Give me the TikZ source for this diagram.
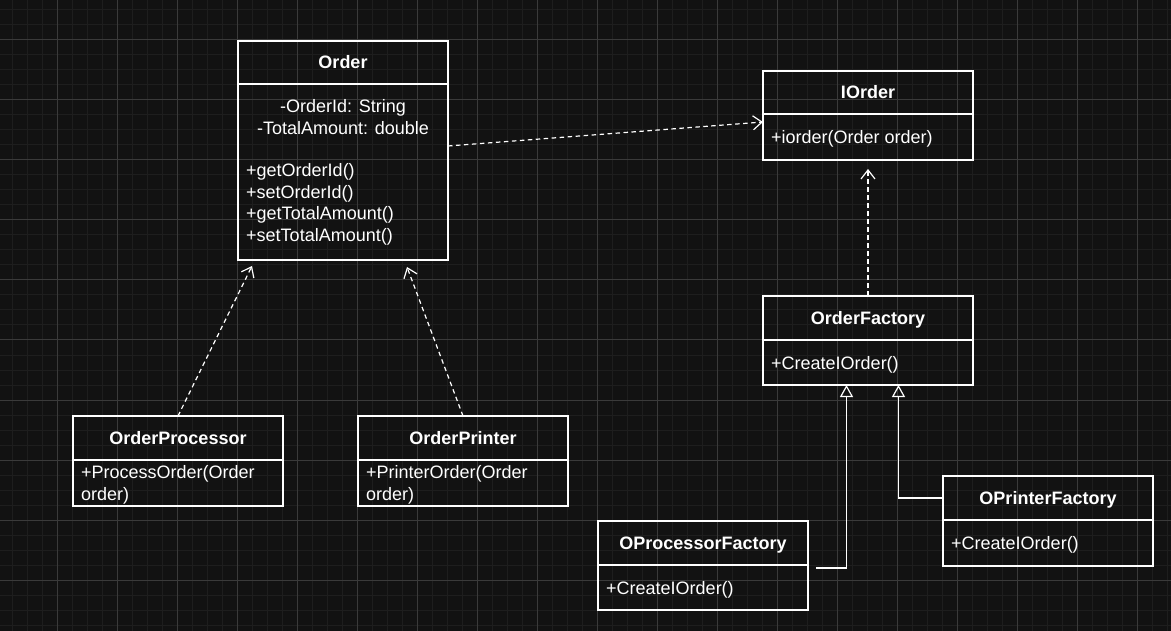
\documentclass[tikz,border=0pt]{standalone}
\usepackage{fontspec}
\setmainfont{Liberation Sans}
\usetikzlibrary{arrows.meta,positioning}
\definecolor{canvas}{HTML}{121212}
\definecolor{gridminor}{HTML}{1E1E1E}
\definecolor{gridmajor}{HTML}{3A3A3A}
\tikzset{
	classhead/.style={draw=white, line width=1.2pt, minimum width=210pt, minimum height=44pt, inner sep=0pt, outer sep=0pt, text height=15pt, text depth=3pt, text=white, font=\fontsize{18}{21.6}\selectfont\bfseries},
	classbody/.style={draw=white, line width=1.2pt, minimum width=210pt, minimum height=45pt, inner sep=0pt, outer sep=0pt},
	members/.style={text=white, font=\fontsize{18}{21.6}\selectfont, align=left, inner xsep=8pt, inner ysep=0pt, anchor=west, yshift=-2pt},
	dep/.style={draw=white, line width=1.2pt, dash pattern=on 4.5pt off 3.5pt, -{Straight Barb[length=9pt,width=14pt]}},
	inherit/.style={draw=white, line width=1.2pt, -{Triangle[open,length=12pt,width=13pt]}}
}
\begin{document}
\begin{tikzpicture}[x=1pt, y=-1pt]
			%%%%% CANVAS %%%%%
			
			\useasboundingbox (0,0) rectangle (1171,631);
			\fill[canvas] (0,0) rectangle (1171,631);
			\foreach \x in {12,27,...,1167} \draw[gridminor, line width=1pt] (\x,0) -- (\x,631);
			\foreach \y in {10,25,...,625} \draw[gridminor, line width=1pt] (0,\y) -- (1171,\y);
			\foreach \x in {57,117,...,1137} \draw[gridmajor, line width=1pt] (\x,0) -- (\x,631);
			\foreach \y in {40,100,...,580} \draw[gridmajor, line width=1pt] (0,\y) -- (1171,\y);
			
			%%%%% CLASSES %%%%%
			
			\node[classhead, anchor=north west, minimum height=43pt] (orderhead) at (238,41) {Order};
			\node[classbody, below=0pt of orderhead, minimum height=176pt] (orderbody) {};
			\node[text=white, font=\fontsize{18}{21.6}\selectfont, align=center] (orderattr) at (343,117) {-OrderId: String\\-TotalAmount: double};
			\node[members] (ordermeth) at (238,202.5) {+getOrderId()\\+setOrderId()\\+getTotalAmount()\\+setTotalAmount()};
			
			\node[classhead, anchor=north west, minimum height=43pt] (iorderhead) at (763,71) {IOrder};
			\node[classbody, below=0pt of iorderhead, minimum height=46pt] (iorderbody) {};
			\node[members] (iordermeth) at (iorderbody.west) {+iorder(Order order)};
			
			\node[classhead, anchor=north west] (factoryhead) at (763,296) {OrderFactory};
			\node[classbody, below=0pt of factoryhead] (factorybody) {};
			\node[members] (factorymeth) at (factorybody.west) {+CreateIOrder()};
			
			\node[classhead, anchor=north west] (prochead) at (73,416) {OrderProcessor};
			\node[classbody, below=0pt of prochead, minimum height=46pt] (procbody) {};
			\node[members] (procmeth) at (procbody.west) {+ProcessOrder(Order\\order)};
			
			\node[classhead, anchor=north west] (printerhead) at (358,416) {OrderPrinter};
			\node[classbody, below=0pt of printerhead, minimum height=46pt] (printerbody) {};
			\node[members] (printermeth) at (printerbody.west) {+PrinterOrder(Order\\order)};
			
			\node[classhead, anchor=north west] (opfhead) at (598,521) {OProcessorFactory};
			\node[classbody, below=0pt of opfhead] (opfbody) {};
			\node[members] (opfmeth) at (opfbody.west) {+CreateIOrder()};
			
			\node[classhead, anchor=north west] (oprfhead) at (943,476) {OPrinterFactory};
			\node[classbody, below=0pt of oprfhead, minimum height=46pt] (oprfbody) {};
			\node[members] (oprfmeth) at (oprfbody.west) {+CreateIOrder()};
			
			%%%%% RELATIONS %%%%%
			
			\draw[dep] ([yshift=26pt]orderbody.east) -- ([yshift=15pt]iorderbody.west);
			\draw[dep] (prochead.north) -- ([xshift=-91pt,yshift=-6pt]orderbody.south);
			\draw[dep] (printerhead.north) -- ([xshift=64pt,yshift=-7pt]orderbody.south);
			\draw[dep] (factoryhead.north) -- ([yshift=-9pt]iorderbody.south);
			
			\draw[inherit] ([xshift=8pt,yshift=19.5pt]opfbody.east) -| ([xshift=-21.5pt]factorybody.south);
			\draw[inherit] (oprfhead.west) -| ([xshift=30.5pt]factorybody.south);
			
			%%%%% END %%%%%
\end{tikzpicture}
\end{document}
